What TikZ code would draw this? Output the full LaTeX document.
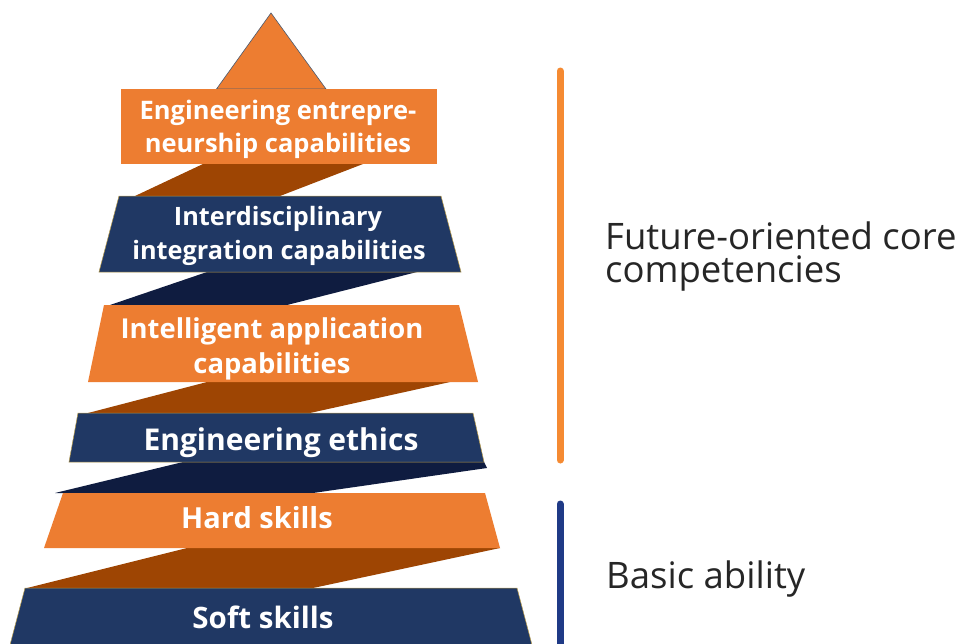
\documentclass[tikz,border=0pt]{standalone}
\usepackage{fontspec}
\setmainfont{Open Sans}
\definecolor{orng}{HTML}{ED7D31}
\definecolor{brwn}{HTML}{9E4503}
\definecolor{navy}{HTML}{203864}
\definecolor{dnavy}{HTML}{0F1C40}
\definecolor{lineor}{HTML}{F58A32}
\definecolor{lineblue}{HTML}{1F3A86}
\definecolor{edgegold}{HTML}{B89B4A}
\definecolor{tripale}{HTML}{4A5A70}
\begin{document}
\begin{tikzpicture}[x=1pt,y=-1pt,
  boxtext/.style={anchor=base,inner sep=0pt,text=white,font=\bfseries\fontsize{#1}{28}\selectfont},
  boxtext/.default=25,
  sidetext/.style={anchor=base west,inner sep=0pt,text=black!85,align=left,font=\fontsize{36.5}{33}\selectfont},
  orangeband/.style={fill=orng},
  navyband/.style={fill=navy,draw=edgegold,line width=0.5pt},
  brownfold/.style={fill=brwn},
  navyfold/.style={fill=dnavy},
  sidebar/.style={line width=7pt,line cap=round}]
\useasboundingbox (0,0) rectangle (965,643);
\clip (0,0) rectangle (965,643);
\fill[white] (0,0) rectangle (965,643);
% apex
\filldraw[fill=orng,draw=tripale,line width=0.6pt] (216.5,89) -- (271,13) -- (326,89) -- cycle;
% folds
\fill[brownfold] (203,164) -- (363,164) -- (280,196) -- (135,196) -- cycle;
\fill[navyfold] (207,272) -- (417,272) -- (287,305) -- (110,305) -- cycle;
\fill[brownfold] (207,382) -- (450,382) -- (310,413) -- (88,413) -- cycle;
\fill[navyfold] (183,462) -- (484,462) -- (487,468) -- (313,493) -- (55,493) -- cycle;
\fill[brownfold] (187,548) -- (500,548) -- (313,588) -- (27,588) -- cycle;
% bands
\fill[orangeband] (121,89) rectangle (437,164);
\filldraw[navyband] (119,196) -- (441,196) -- (461,272) -- (99,272) -- cycle;
\fill[orangeband] (104,305) -- (459,305) -- (478,382) -- (88,382) -- cycle;
\filldraw[navyband] (78,413) -- (473,413) -- (484,462) -- (69,462) -- cycle;
\fill[orangeband] (63,493) -- (485,493) -- (500,548) -- (44,548) -- cycle;
\filldraw[navyband] (25,588) -- (517,588) -- (532,645) -- (10,645) -- cycle;
% texts
\node[boxtext=25.5] (t1a) at (278,119) {Engineering entrepre-};
\node[boxtext=25.5] (t1b) at (278,152) {neurship capabilities};
\node[boxtext=25.3] (t2a) at (278,225) {Interdisciplinary};
\node[boxtext=25.3] (t2b) at (279,259) {integration capabilities};
\node[boxtext=27.4] (t3a) at (272,338) {Intelligent application};
\node[boxtext=27.4] (t3b) at (272,373) {capabilities};
\node[boxtext=30] (t4) at (281,450) {Engineering ethics};
\node[boxtext=29] (t5) at (257,528) {Hard skills};
\node[boxtext=29.5] (t6) at (263,628) {Soft skills};
% side bars
\coordinate (oa) at (560,71);
\coordinate (ob) at (560,460);
\coordinate (ba) at (560,504);
\coordinate (bb) at (560,650);
\draw[sidebar,lineor] (oa) -- (ob);
\draw[sidebar,lineblue] (ba) -- (bb);
\node[sidetext] (future) at (605,282) {Future-oriented core\\competencies};
\node[sidetext] (basic) at (606,588) {Basic ability};
\end{tikzpicture}
\end{document}
